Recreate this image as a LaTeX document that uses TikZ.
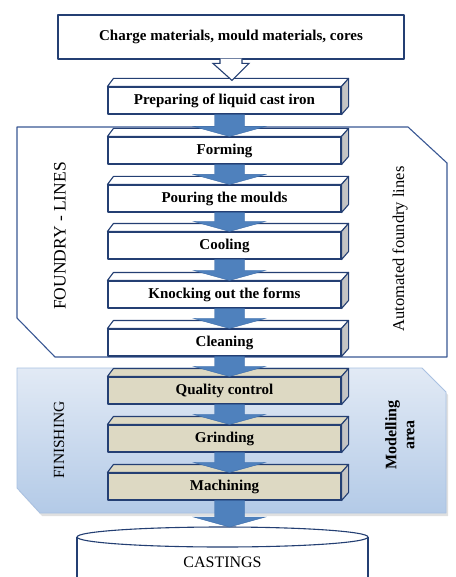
\documentclass[tikz,border=0pt]{standalone}
\usepackage{fontspec}
\setmainfont{Liberation Serif}
\usetikzlibrary{calc}
\definecolor{navy}{HTML}{243F73}
\definecolor{regline}{HTML}{3A5894}
\definecolor{arrblue}{HTML}{4F81BD}
\definecolor{arredge}{HTML}{3B6BA8}
\definecolor{beige}{HTML}{DDD9C3}
\definecolor{sidegray}{HTML}{C4C4C4}
\definecolor{fintop}{HTML}{E2EAF5}
\definecolor{finbot}{HTML}{B3CAE7}
\definecolor{finline}{HTML}{A9C1E2}
\tikzset{
  boxline/.style={draw=navy, line width=1.1pt, line join=round},
  stepbox/.style={boxline, rectangle, minimum width=233pt, minimum height=27pt, inner sep=0pt,
    font=\bfseries\fontsize{15}{17}\selectfont},
  sidelabel/.style={rotate=90, font=\fontsize{16.5}{18}\selectfont, inner sep=0pt},
  flowfill/.style={fill=arrblue, draw=arredge, line width=0.4pt, line join=miter}
}
\newcommand{\boxthreeD}[4]{%
  \node[stepbox, fill=#4] (#1) at (224.5,#2+21.5) {#3};
  \draw[boxline, fill=#4] (#1.north west) -- ++(6,-8) -- ($(#1.north east)+(7,-8)$) -- (#1.north east) -- cycle;
  \draw[boxline, fill=sidegray] (#1.north east) -- ++(7,-8) -- ++(0,28) -- (#1.south east) -- cycle;
}
\newcommand{\flowarr}[2]{%
  \filldraw[flowfill] let \p1=(#1.south), \p2=(#2) in
    (\x1-10pt,\y1) -- (\x1+20pt,\y1) -- (\x1+20pt,\y2+10pt) -- (\x1+41pt,\y2+10pt)
    -- (\x1+5pt,\y2) -- (\x1-31pt,\y2+10pt) -- (\x1-10pt,\y2+10pt) -- cycle;
}
\begin{document}
\begin{tikzpicture}[x=1pt,y=-1pt]
\useasboundingbox (0,0) rectangle (455,577);
\fill[white] (0,0) rectangle (455,577);
% foundry region
\draw[draw=regline, line width=1.1pt, fill=white, line join=round]
  (17,127) -- (408,127) -- (447,163) -- (447,357) -- (55,357) -- (17,318) -- cycle;
% finishing region with soft shadow
\fill[black, opacity=0.12] (19,371) -- (424,371) -- (448,395) -- (448,516) -- (42,516) -- (19,491) -- cycle;
\shade[top color=fintop, bottom color=finbot]
  (17,368) -- (422,368) -- (446,392) -- (446,513) -- (40,513) -- (17,488) -- cycle;
\draw[draw=finline, line width=0.8pt, line join=round]
  (17,368) -- (422,368) -- (446,392) -- (446,513) -- (40,513) -- (17,488) -- cycle;
% top box
\node[boxline, fill=white, rectangle, minimum width=346pt, minimum height=44pt, inner sep=0pt,
  font=\bfseries\fontsize{15}{17}\selectfont] (charge) at (231,37) {Charge materials, mould materials, cores};
% boxes
\boxthreeD{prep}{79}{Preparing of liquid cast iron}{white}
\boxthreeD{forming}{129}{Forming}{white}
\boxthreeD{pouring}{177}{Pouring the moulds}{white}
\boxthreeD{cooling}{224}{Cooling}{white}
\boxthreeD{knocking}{273}{Knocking out the forms}{white}
\boxthreeD{cleaning}{321}{Cleaning}{white}
\boxthreeD{quality}{369}{Quality control}{beige}
\boxthreeD{grinding}{417}{Grinding}{beige}
\boxthreeD{machining}{465}{Machining}{beige}
% open arrow
\filldraw[fill=white, draw=navy, line width=1.1pt, line join=miter]
  let \p1=(charge.south), \p2=(prep.north) in
  (\x1-11pt,\y1+1pt) -- (\x1-11pt,\y2+23pt) -- (\x1-18pt,\y2+23pt) -- (\x1+1pt,\y2+6pt)
  -- (\x1+18pt,\y2+23pt) -- (\x1+11pt,\y2+23pt) -- (\x1+11pt,\y1+1pt);
% castings cylinder
\begin{scope}
\clip (0,0) rectangle (455,577);
\draw[boxline, fill=white] (77,537) -- (77,590) -- (368,590) -- (368,537);
\draw[boxline, fill=white] (222.5,537) ellipse [x radius=145.5, y radius=10];
\end{scope}
\coordinate (casttop) at (229.5,527);
\node[font=\fontsize{16}{18}\selectfont] (castings) at (222.5,562) {CASTINGS};
% flow arrows
\flowarr{prep}{forming.north}
\flowarr{forming}{pouring.north}
\flowarr{pouring}{cooling.north}
\flowarr{cooling}{knocking.north}
\flowarr{knocking}{cleaning.north}
\flowarr{cleaning}{quality.north}
\flowarr{quality}{grinding.north}
\flowarr{grinding}{machining.north}
\flowarr{machining}{casttop}
% side labels
\node[sidelabel, font=\fontsize{17.5}{19}\selectfont] (foundrylbl) at (60,236) {FOUNDRY - LINES};
\node[sidelabel] (autolbl) at (400,249) {Automated foundry lines};
\node[sidelabel, font=\fontsize{15.5}{17}\selectfont] (finlbl) at (59,440) {FINISHING};
\node[sidelabel, font=\bfseries\fontsize{16}{18}\selectfont, align=center] (modlbl) at (400,435) {Modelling\\area};
\end{tikzpicture}
\end{document}
